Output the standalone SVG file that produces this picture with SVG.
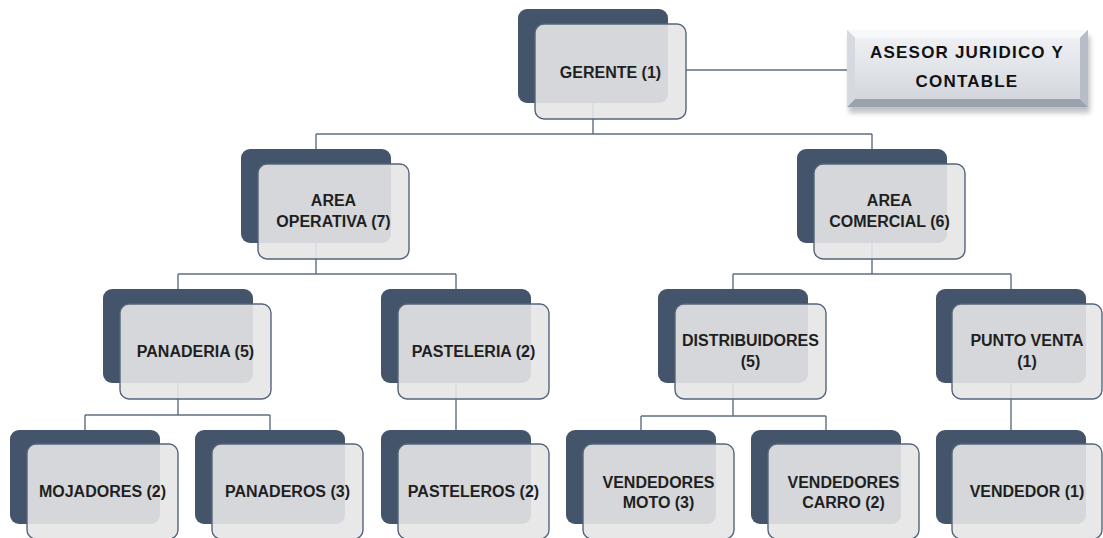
<svg xmlns="http://www.w3.org/2000/svg" width="1103" height="538" viewBox="0 0 1103 538">
<style>
.dk{fill:#44546a}
.lt{fill:#e6e6e7;fill-opacity:0.9;stroke:#56657a;stroke-width:1.4}
.tx{font-family:"Liberation Sans",Arial,sans-serif;font-weight:bold;font-size:16px;fill:#1f1f1f;text-anchor:middle}
.as{font-family:"Liberation Sans",Arial,sans-serif;font-weight:bold;font-size:17px;fill:#111;text-anchor:middle;letter-spacing:1.2px}
.cn{fill:none;stroke:#5f6e82;stroke-width:1.4}
</style>
<defs>
<linearGradient id="face" x1="0" y1="0" x2="0" y2="1">
<stop offset="0" stop-color="#eef0f3"/>
<stop offset="1" stop-color="#d3d7dd"/>
</linearGradient>
<filter id="sh" x="-10%" y="-10%" width="120%" height="140%">
<feGaussianBlur stdDeviation="2.5"/>
</filter>
</defs>
<rect width="1103" height="538" fill="#ffffff"/>
<g id="connectors" class="cn">
<path d="M593,103V134M316,134H872M316,134V149M872,134V149"/>
<path d="M316,243V274M178,274H456M178,274V289M456,274V289"/>
<path d="M872,243V274M733,274H1011M733,274V289M1011,274V289"/>
<path d="M178,383V415M85,415H270M85,415V430M270,415V430"/>
<path d="M456,383V430"/>
<path d="M733,383V416M641,416H826M641,416V430M826,416V430"/>
<path d="M1011,383V430"/>
<path d="M686,70H847"/>
</g>
<g id="gerente">
<rect class="dk" x="518" y="9" width="150" height="94" rx="9"/>
<rect class="lt" x="535" y="24" width="151" height="95" rx="9"/>
<text class="tx" x="610.5" y="78">GERENTE (1)</text>
</g>
<g id="asesor">
<rect x="849" y="36" width="241" height="77" fill="#8a8f96" opacity="0.55" filter="url(#sh)"/>
<rect x="847" y="30" width="241" height="77" fill="#c5cad1"/>
<polygon points="847,30 1088,30 1080,38 855,38" fill="#f7f8fa"/>
<polygon points="847,107 1088,107 1080,99 855,99" fill="#9aa2ad"/>
<polygon points="847,30 855,38 855,99 847,107" fill="#d6dae0"/>
<polygon points="1088,30 1080,38 1080,99 1088,107" fill="#b7bdc6"/>
<rect x="855" y="38" width="225" height="61" fill="url(#face)"/>
<text class="as" x="967" y="58">ASESOR JURIDICO Y</text>
<text class="as" x="967" y="87">CONTABLE</text>
</g>
<g id="area-operativa">
<rect class="dk" x="241" y="149" width="150" height="94" rx="9"/>
<rect class="lt" x="258" y="164" width="151" height="95" rx="9"/>
<text class="tx" x="333.5" y="206">AREA</text>
<text class="tx" x="333.5" y="227">OPERATIVA (7)</text>
</g>
<g id="area-comercial">
<rect class="dk" x="797" y="149" width="150" height="94" rx="9"/>
<rect class="lt" x="814" y="164" width="151" height="95" rx="9"/>
<text class="tx" x="889.5" y="206">AREA</text>
<text class="tx" x="889.5" y="227">COMERCIAL (6)</text>
</g>
<g id="panaderia">
<rect class="dk" x="103" y="289" width="150" height="94" rx="9"/>
<rect class="lt" x="120" y="304" width="151" height="95" rx="9"/>
<text class="tx" x="195.5" y="357">PANADERIA (5)</text>
</g>
<g id="pasteleria">
<rect class="dk" x="381" y="289" width="150" height="94" rx="9"/>
<rect class="lt" x="398" y="304" width="151" height="95" rx="9"/>
<text class="tx" x="473.5" y="357">PASTELERIA (2)</text>
</g>
<g id="distribuidores">
<rect class="dk" x="658" y="289" width="150" height="94" rx="9"/>
<rect class="lt" x="675" y="304" width="151" height="95" rx="9"/>
<text class="tx" x="750.5" y="346">DISTRIBUIDORES</text>
<text class="tx" x="750.5" y="367">(5)</text>
</g>
<g id="punto-venta">
<rect class="dk" x="936" y="289" width="150" height="94" rx="9"/>
<rect class="lt" x="952" y="304" width="150" height="95" rx="9"/>
<text class="tx" x="1027" y="346">PUNTO VENTA</text>
<text class="tx" x="1027" y="367">(1)</text>
</g>
<g id="mojadores">
<rect class="dk" x="10" y="430" width="150" height="94" rx="9"/>
<rect class="lt" x="27" y="444" width="151" height="95" rx="9"/>
<text class="tx" x="102.5" y="497">MOJADORES (2)</text>
</g>
<g id="panaderos">
<rect class="dk" x="195" y="430" width="150" height="94" rx="9"/>
<rect class="lt" x="212" y="444" width="151" height="95" rx="9"/>
<text class="tx" x="287.5" y="497">PANADEROS (3)</text>
</g>
<g id="pasteleros">
<rect class="dk" x="381" y="430" width="150" height="94" rx="9"/>
<rect class="lt" x="398" y="444" width="151" height="95" rx="9"/>
<text class="tx" x="473.5" y="497">PASTELEROS (2)</text>
</g>
<g id="vendedores-moto">
<rect class="dk" x="566" y="430" width="150" height="94" rx="9"/>
<rect class="lt" x="583" y="444" width="151" height="95" rx="9"/>
<text class="tx" x="658.5" y="488">VENDEDORES</text>
<text class="tx" x="658.5" y="508">MOTO (3)</text>
</g>
<g id="vendedores-carro">
<rect class="dk" x="751" y="430" width="150" height="94" rx="9"/>
<rect class="lt" x="768" y="444" width="151" height="95" rx="9"/>
<text class="tx" x="843.5" y="488">VENDEDORES</text>
<text class="tx" x="843.5" y="508">CARRO (2)</text>
</g>
<g id="vendedor">
<rect class="dk" x="936" y="430" width="150" height="94" rx="9"/>
<rect class="lt" x="952" y="444" width="150" height="95" rx="9"/>
<text class="tx" x="1027" y="497">VENDEDOR (1)</text>
</g>
</svg>
